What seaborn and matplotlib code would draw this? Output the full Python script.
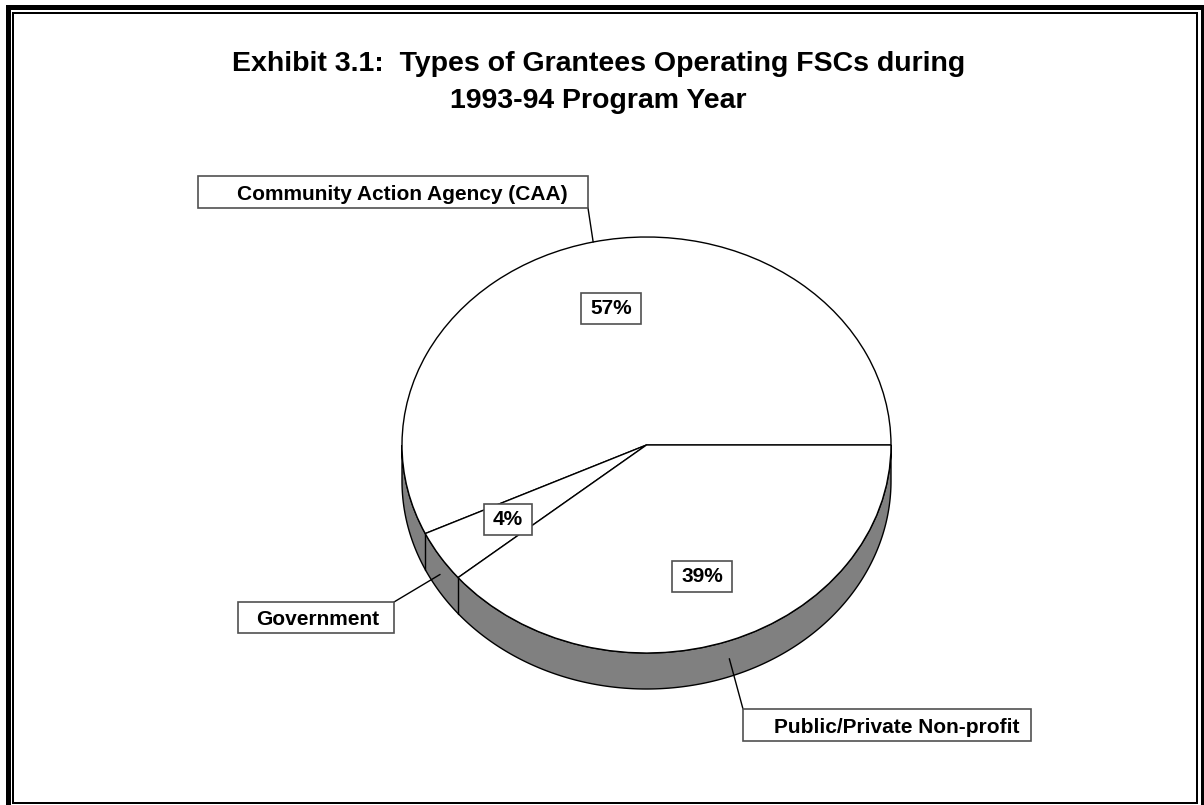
import numpy as np
import matplotlib
matplotlib.use("Agg")
import matplotlib.pyplot as plt
from matplotlib.patches import Rectangle, Polygon
import seaborn as sns

# ---- data -------------------------------------------------------------
categories = ["Community Action Agency (CAA)", "Government", "Public/Private Non-profit"]
shares = [57, 4, 39]
title_lines = ["Exhibit 3.1:  Types of Grantees Operating FSCs during",
               "1993-94 Program Year"]

# ---- figure setup -----------------------------------------------------
W, H = 1204, 805
sns.set_theme(style="white")
plt.rcParams['font.family'] = ['Liberation Sans', 'DejaVu Sans']

fig = plt.figure(figsize=(W / 100, H / 100), dpi=100)
fig.patch.set_facecolor("white")
ax = fig.add_axes([0, 0, 1, 1])

# geometry of the tilted pie (pixels)
CX, CY, RX, RY, DEPTH = 646.5, 445.0, 244.5, 208.0, 36.0
d = DEPTH / RY

wedges, _, autotexts = ax.pie(
    shares, startangle=0, counterclock=True,
    colors=["white"] * len(shares),
    wedgeprops=dict(edgecolor="black", linewidth=1.0, zorder=3),
    autopct=lambda p: f"{p:.0f}%", pctdistance=0.67,
    textprops=dict(fontsize=15, fontweight="bold", color="black", zorder=6),
    frame=False,
)
ax.set_aspect("auto")
ax.set_xlim(-CX / RX, (W - CX) / RX)
ax.set_ylim(-(H - CY) / RY, CY / RY)
ax.axis("off")

# side wall of the pie (front half)
t = np.radians(np.linspace(180, 360, 300))
top = np.column_stack([np.cos(t), np.sin(t)])
bot = np.column_stack([np.cos(t[::-1]), np.sin(t[::-1]) - d])
ax.add_patch(Polygon(np.vstack([top, bot]), closed=True, fc="#808080",
                     ec="black", lw=1.0, zorder=2))

bounds = np.concatenate([[0], np.cumsum(shares)]) / np.sum(shares) * 360.0
for b in bounds:
    if 180 < b < 360:
        r = np.radians(b)
        ax.plot([np.cos(r)] * 2, [np.sin(r), np.sin(r) - d],
                color="black", lw=1.0, zorder=2.5)

# ---- helpers ----------------------------------------------------------
def px2data(px, py):
    return ax.transData.inverted().transform((px, H - py))

BOX_EC = "#505050"

def pixel_box(l, tp, r, bt):
    x0, y0 = px2data(l, bt)
    x1, y1 = px2data(r, tp)
    ax.add_patch(Rectangle((x0, y0), x1 - x0, y1 - y0, fc="white",
                           ec=BOX_EC, lw=1.2, zorder=5))

# percentage boxes around the autopct labels
fig.canvas.draw()
renderer = fig.canvas.get_renderer()
for txt in autotexts:
    bb = txt.get_window_extent(renderer)
    l, r = bb.x0 - 9, bb.x1 + 9
    b, tp = bb.y0 - 6, bb.y1 + 6
    pixel_box(l, H - tp, r, H - b)

# outer category labels with leader lines
label_boxes = [(198, 176, 588, 208), (238, 602, 394, 633), (743, 709, 1031, 741)]
label_text_x = [402, 317.5, 896.5]
label_corner = [(588, 208), (394, 602), (743, 709)]

mids = (bounds[:-1] + bounds[1:]) / 2
for cat, box, tx, corner, m in zip(categories, label_boxes, label_text_x,
                                   label_corner, mids):
    pixel_box(*box)
    bx, by = px2data(tx, box[3] - 8)
    ax.text(bx, by, cat, ha="center", va="baseline", fontsize=15,
            fontweight="bold", color="black", zorder=6)
    r = np.radians(m)
    ax_, ay_ = np.cos(r), np.sin(r)
    if ay_ < 0:
        ay_ -= d / 2
    cx_, cy_ = px2data(*corner)
    ax.plot([cx_, ax_], [cy_, ay_], color="black", lw=1.0, zorder=4)

# ---- title ------------------------------------------------------------
for i, line in enumerate(title_lines):
    fig.text(598.5 / W, 1 - (71 + 37 * i) / H, line, ha="center",
             va="baseline", fontsize=20.5, fontweight="bold", color="black")

# ---- double frame -----------------------------------------------------
def frame(l, tp, r, bt, lw):
    fig.add_artist(Rectangle((l / W, 1 - bt / H), (r - l) / W, (bt - tp) / H,
                             transform=fig.transFigure, fill=False,
                             ec="black", lw=lw))

frame(7.5, 7.5, 1202.5, 808.5, 3.6)
frame(13, 13, 1197, 803, 1.44)

fig.savefig("out.png", dpi=100, facecolor="white")
